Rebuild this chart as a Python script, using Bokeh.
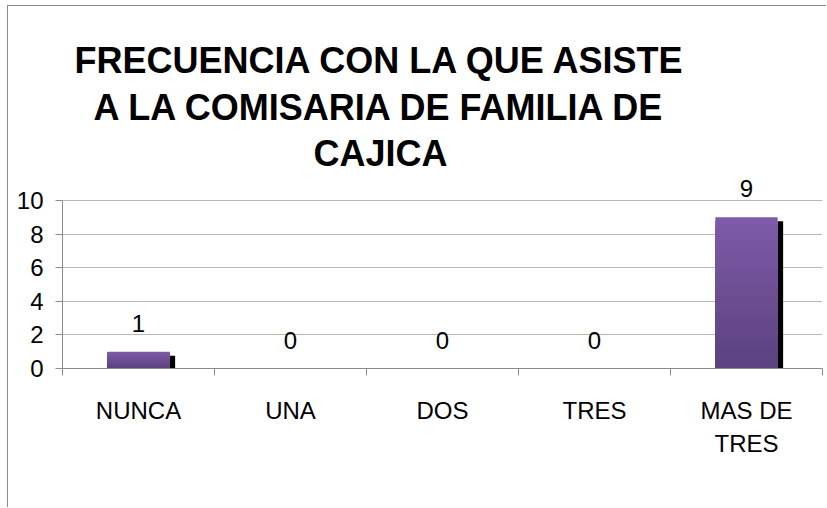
from bokeh.plotting import figure
from bokeh.models import Range1d, FixedTicker, Label, LabelSet, ColumnDataSource
from bokeh.core.properties import value
from bokeh.embed import file_html
from bokeh.resources import INLINE

# ---- data ----
categories = ["NUNCA", "UNA", "DOS", "TRES", "MAS DE\nTRES"]
counts = [1, 0, 0, 0, 9]
y_ticks = [0, 2, 4, 6, 8, 10]
title_lines = ["FRECUENCIA CON LA QUE ASISTE", "A LA COMISARIA DE FAMILIA DE", "CAJICA"]

FONT = "Liberation Sans"
PX_PER_UNIT = 16.8          # vertical scale of the value axis
Y_MAX = 10                  # top of the value axis
EXTRA_TOP = 194 / PX_PER_UNIT  # room above the axis for the title

p = figure(width=819, height=502, output_backend="svg", toolbar_location=None,
           x_range=Range1d(0, len(categories)), y_range=Range1d(0, Y_MAX + EXTRA_TOP),
           min_border_left=54, min_border_right=5, min_border_top=0, min_border_bottom=140)
p.outline_line_color = None
p.background_fill_color = "white"
p.border_fill_color = "white"
p.styles = {"margin-left": "7px", "margin-top": "5px",
            "border-left": "1px solid #8c8c8c", "border-top": "1px solid #8c8c8c"}

centers = [i + 0.5 for i in range(len(categories))]

# x axis: category labels at centres, boundary ticks as minor ticks
p.xaxis.ticker = FixedTicker(ticks=centers, minor_ticks=list(range(len(categories) + 1)))
p.xaxis.major_label_overrides = {c: name for c, name in zip(centers, categories)}
p.xaxis.major_tick_out = 0
p.xaxis.major_tick_in = 0
p.xaxis.minor_tick_out = 7
p.xaxis.minor_tick_in = 0
p.xaxis.axis_line_color = "#8c8c8c"
p.xaxis.minor_tick_line_color = "#8c8c8c"
p.xaxis.major_label_standoff = 21
p.xaxis.major_label_text_font = FONT
p.xaxis.major_label_text_font_size = "24px"
p.xaxis.major_label_text_color = "black"
p.xaxis.major_label_text_line_height = 1.23

p.yaxis.ticker = FixedTicker(ticks=y_ticks)
p.yaxis.bounds = (0, Y_MAX)
p.yaxis.major_tick_out = 7
p.yaxis.major_tick_in = 0
p.yaxis.minor_tick_line_color = None
p.yaxis.axis_line_color = "#8c8c8c"
p.yaxis.major_tick_line_color = "#8c8c8c"
p.yaxis.major_label_standoff = 12
p.yaxis.major_label_text_font = FONT
p.yaxis.major_label_text_font_size = "24px"
p.yaxis.major_label_text_color = "black"

p.xgrid.grid_line_color = None
p.ygrid.ticker = FixedTicker(ticks=y_ticks)
p.ygrid.grid_line_color = "#b8b8b8"

bar_w = 0.41

# shadow (3D side)
sh_x, sh_top = [], []
for c, v in zip(centers, counts):
    if v > 0:
        sh_x.append(c + bar_w / 2 + 0.018)
        sh_top.append(v - 4 / PX_PER_UNIT)
p.vbar(x=sh_x, top=sh_top, bottom=0, width=0.036, fill_color="black", line_color=None)

# gradient bars: overlapping layers, tallest (lightest) first, darker ones on top
n = 40
top_rgb = (126, 90, 168)
bot_rgb = (92, 66, 128)
xs, tops, cols = [], [], []
for k in range(n, 0, -1):
    f = (k - 1) / (n - 1)
    rgb = tuple(int(round(b + (t - b) * f)) for t, b in zip(top_rgb, bot_rgb))
    for c, v in zip(centers, counts):
        if v <= 0:
            continue
        xs.append(c)
        tops.append(v * k / n)
        cols.append("#%02x%02x%02x" % rgb)
p.vbar(x=xs, bottom=0, top=tops, width=bar_w, fill_color=cols, line_color=None)

# value labels
src = ColumnDataSource(dict(x=centers, y=counts, t=[str(v) for v in counts]))
p.add_layout(LabelSet(x="x", y="y", text="t", source=src, y_offset=20,
                      text_align="center", text_baseline="alphabetic",
                      text_font=value(FONT), text_font_size="24px", text_color="black"))

# title (three centred lines)
title_x = 2.092
for j, line in enumerate(title_lines):
    p.add_layout(Label(x=title_x, y=Y_MAX, text=line, y_offset=140 - 46.5 * j,
                       text_align="center", text_baseline="alphabetic",
                       text_font=FONT, text_font_size="36px", text_font_style="bold",
                       text_color="black"))

open("out.html", "w").write(file_html(p, INLINE))
